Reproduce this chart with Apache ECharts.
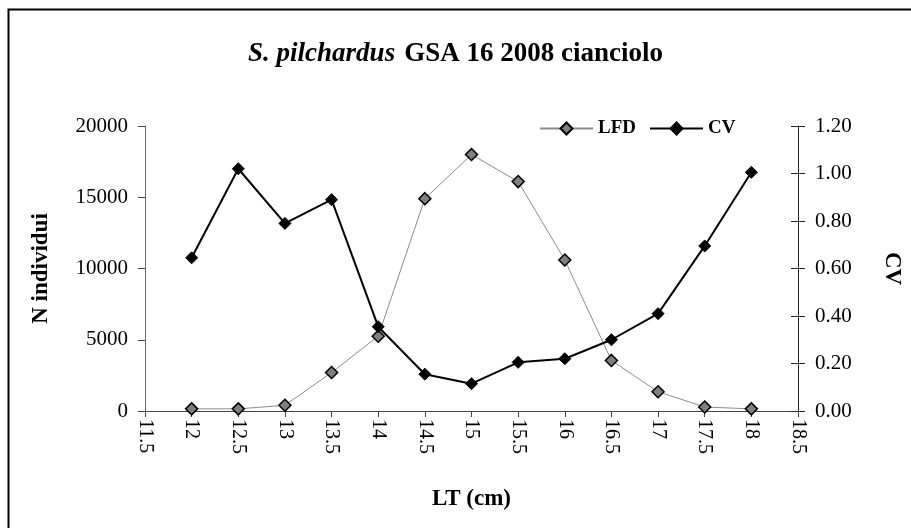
<!DOCTYPE html>
<html>
  <head>
    <meta charset="utf-8" />
    <script src="https://cdn.jsdelivr.net/npm/echarts@6/dist/echarts.min.js"></script>
  </head>
  <body>
    <style>
      html,
      body,
      #main {
        width: 100%;
        height: 100%;
        margin: 0;
        background: #fff;
      }
    </style>
    <div id="main"></div>
    <script>
      var chart = echarts.init(document.getElementById('main'));

      // length classes (cm)
      var lengths = [12, 12.5, 13, 13.5, 14, 14.5, 15, 15.5, 16, 16.5, 17, 17.5, 18];
      // number of individuals per class
      var lfd = [150, 150, 400, 2700, 5250, 14900, 18000, 16100, 10600, 3550, 1350, 280, 150];
      // coefficient of variation
      var cv = [0.645, 1.02, 0.79, 0.89, 0.355, 0.155, 0.115, 0.205, 0.22, 0.3, 0.41, 0.695, 1.005];

      var font = 'Liberation Serif';

      function pairs(ys) {
        return lengths.map(function (x, i) {
          return [x, ys[i]];
        });
      }

      var nameStyle = { fontFamily: font, fontSize: 23, fontWeight: 'bold', color: '#000' };

      var option = {
        backgroundColor: '#fff',
        animation: false,
        textStyle: { fontFamily: font },
        title: {
          text: '{it|S. pilchardus}  {b|GSA 16 2008 cianciolo}',
          left: 'center',
          top: 36,
          textStyle: {
            rich: {
              it: { fontFamily: font, fontSize: 27, fontWeight: 'bold', fontStyle: 'italic', color: '#000' },
              b: { fontFamily: font, fontSize: 27, fontWeight: 'bold', color: '#000' }
            }
          }
        },
        legend: {
          left: 539,
          top: 119,
          padding: 0,
          itemWidth: 53,
          itemHeight: 15,
          itemGap: 13,
          textStyle: { fontFamily: font, fontSize: 19, fontWeight: 'bold', color: '#000' },
          data: ['LFD', 'CV']
        },
        grid: { left: 145, right: 111, top: 126, bottom: 117 },
        xAxis: {
          type: 'value',
          min: 11.5,
          max: 18.5,
          interval: 0.5,
          name: 'LT (cm)',
          nameLocation: 'middle',
          nameGap: 77,
          nameTextStyle: nameStyle,
          axisLine: { lineStyle: { color: '#444', width: 1 } },
          axisTick: { show: true, length: 6, lineStyle: { color: '#444' } },
          splitLine: { show: false },
          axisLabel: { rotate: -90, margin: 8, fontFamily: font, fontSize: 20, color: '#000' }
        },
        yAxis: [
          {
            type: 'value',
            min: 0,
            max: 20000,
            interval: 5000,
            name: 'N individui',
            nameLocation: 'middle',
            nameGap: 92,
            nameRotate: 90,
            nameTextStyle: nameStyle,
            axisLine: { show: true, lineStyle: { color: '#666' } },
            axisTick: { show: true, length: 7, lineStyle: { color: '#444' } },
            splitLine: { show: false },
            axisLabel: {
              margin: 17,
              fontFamily: font,
              fontSize: 21,
              color: '#000',
              formatter: function (v) {
                return String(v);
              }
            }
          },
          {
            type: 'value',
            position: 'right',
            min: 0,
            max: 1.2,
            interval: 0.2,
            name: 'CV',
            nameLocation: 'middle',
            nameGap: 82,
            nameRotate: -90,
            nameTextStyle: nameStyle,
            axisLine: { show: true, lineStyle: { color: '#222' } },
            axisTick: { show: true, length: 7, lineStyle: { color: '#222' } },
            splitLine: { show: false },
            axisLabel: {
              margin: 17,
              fontFamily: font,
              fontSize: 21,
              color: '#000',
              formatter: function (v) {
                return v.toFixed(2);
              }
            }
          },
          {
            type: 'value',
            position: 'right',
            min: 0,
            max: 1.2,
            interval: 0.2,
            axisLine: { show: false },
            axisTick: { show: true, inside: true, length: 7, lineStyle: { color: '#222' } },
            splitLine: { show: false },
            axisLabel: { show: false }
          }
        ],
        series: [
          {
            name: 'LFD',
            type: 'line',
            yAxisIndex: 0,
            data: pairs(lfd),
            symbol: 'diamond',
            symbolSize: 12,
            lineStyle: { color: '#8c8c8c', width: 1 },
            itemStyle: { color: '#7f7f7f', borderColor: '#000', borderWidth: 1.5 },
            z: 2
          },
          {
            name: 'CV',
            type: 'line',
            yAxisIndex: 1,
            data: pairs(cv),
            symbol: 'diamond',
            symbolSize: 12,
            lineStyle: { color: '#000', width: 2 },
            itemStyle: { color: '#000', borderColor: '#000', borderWidth: 1 },
            z: 3
          }
        ],
        graphic: [
          {
            type: 'rect',
            shape: { x: 8.5, y: 9.5, width: 1000, height: 1000 },
            style: { fill: null, stroke: '#000', lineWidth: 2 },
            silent: true
          }
        ]
      };

      chart.setOption(option);

      window.onresize = function () {
        chart.resize();
      };
    </script>
  </body>
</html>
